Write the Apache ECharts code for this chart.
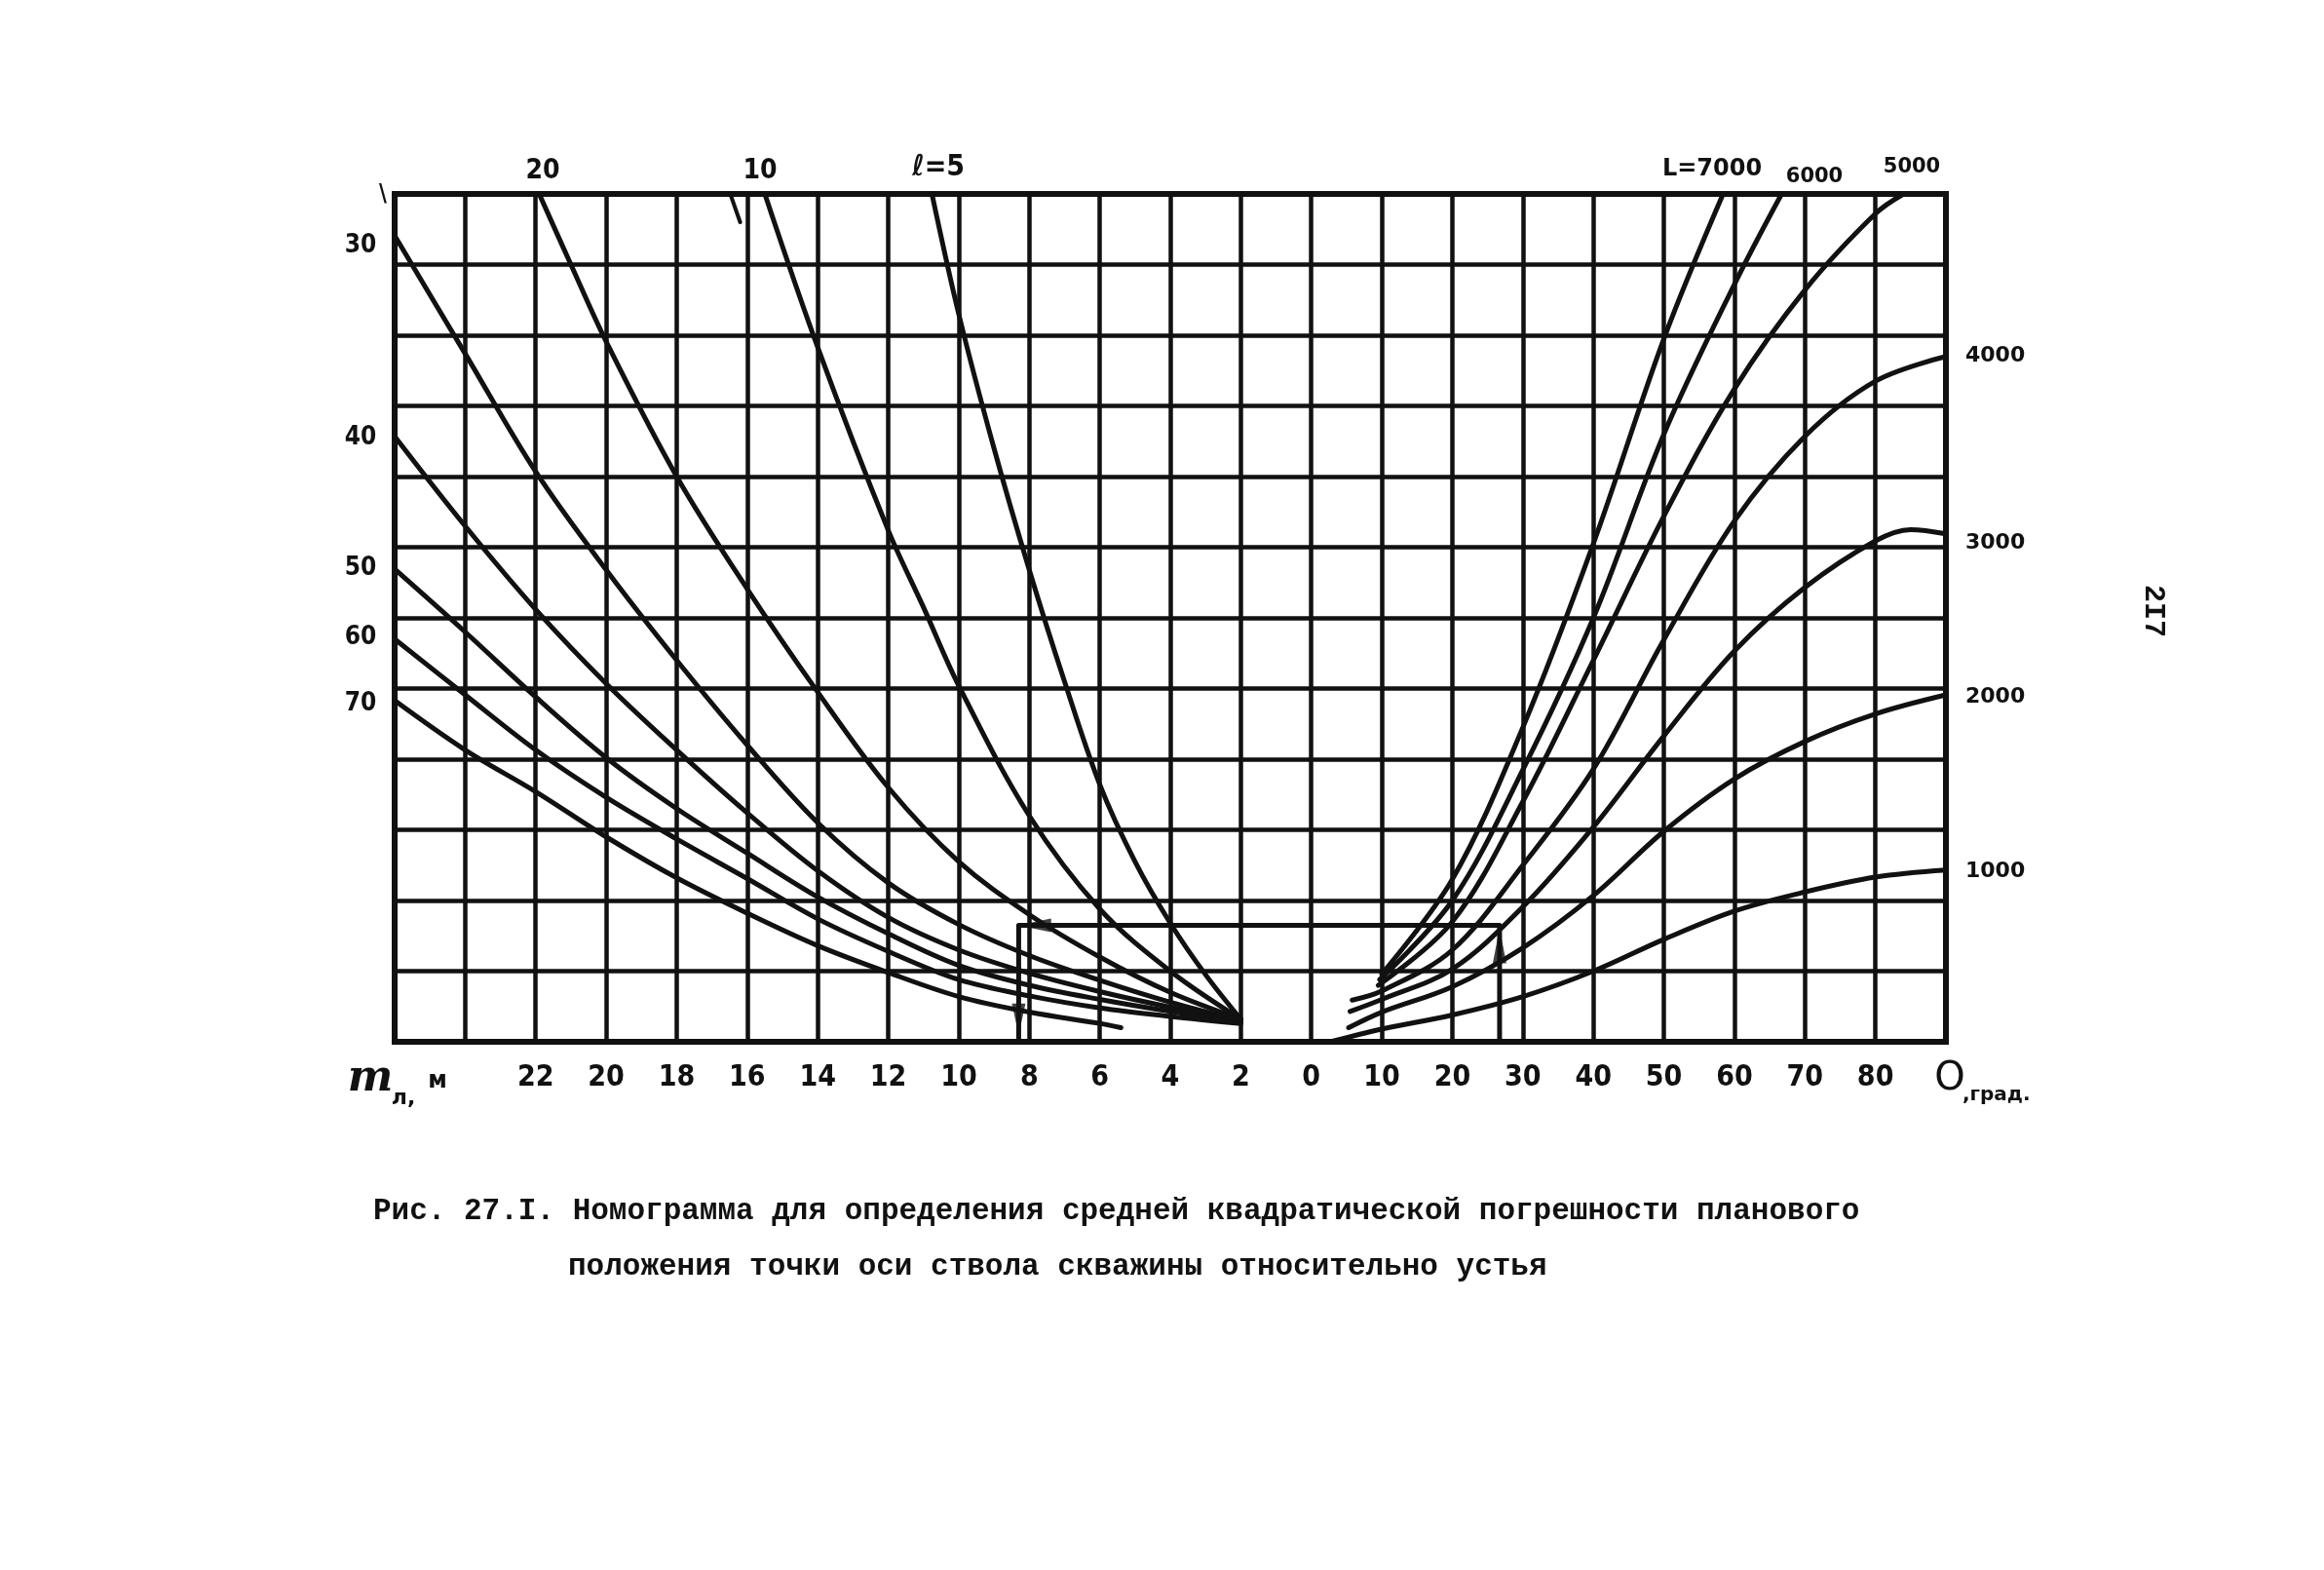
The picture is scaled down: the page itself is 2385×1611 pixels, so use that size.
<!DOCTYPE html>
<html><head><meta charset="utf-8">
<script src="https://cdn.jsdelivr.net/npm/echarts@6/dist/echarts.min.js"></script>
<style>html,body{margin:0;padding:0;background:#fff}#c{width:2385px;height:1611px}</style>
</head><body><div id="c"></div>
<script>
// ---- tick labels ----
const mTickLabels = [22, 20, 18, 16, 14, 12, 10, 8, 6, 4, 2];
const thetaTickLabels = [0, 10, 20, 30, 40, 50, 60, 70, 80];

// ---- left family: m (metres) vs. level, curves for l ----
const curveL5  = [[10.76,12],[10,10.3],[9,8.4],[8,6.68],[7,5.1],[6,3.64],[5,2.55],[4,1.68],[3,0.95],[2,0.32]];
const curveL10 = [[15.5,12],[14,9.83],[12,7.24],[11,6.15],[10,5.04],[8,3.2],[6,1.88],[4,1.0],[2,0.32]];
const curveL20 = [[21.9,12],[21,11],[20,9.91],[18,8.0],[16,6.41],[14,4.95],[12,3.6],[10,2.55],[8,1.8],[6,1.2],[4,0.7],[2,0.32]];
const curveL30 = [[26,11.41],[24,9.74],[22,8.07],[20,6.68],[18,5.4],[16,4.2],[14,3.1],[12,2.25],[10,1.66],[8,1.22],[6,0.87],[4,0.56],[2,0.3]];
const curveL40 = [[26,8.57],[24,7.3],[22,6.12],[20,5.07],[18,4.13],[16,3.24],[14,2.42],[12,1.76],[10,1.3],[8,0.97],[6,0.71],[4,0.49],[2,0.3]];
const curveL50 = [[26,6.69],[24,5.8],[22,4.88],[20,4.02],[18,3.3],[16,2.67],[14,2.05],[12,1.53],[10,1.08],[8,0.8],[6,0.6],[4,0.43],[2,0.28]];
const curveL60 = [[26,5.7],[24,4.91],[22,4.13],[20,3.46],[18,2.87],[16,2.31],[14,1.74],[12,1.28],[10,0.88],[8,0.65],[6,0.48],[4,0.36],[2,0.26]];
const curveL70 = [[26,4.83],[24,4.13],[22,3.54],[20,2.9],[18,2.32],[16,1.82],[14,1.36],[12,0.98],[10,0.64],[8,0.42],[6,0.26],[5.4,0.2]];
const strayStroke = [[16.48,12],[16.2,11.6]];

// ---- right family: theta (degrees) vs. level, curves for L ----
const curveL1000 = [[2.7,0],[10,0.18],[20,0.38],[30,0.64],[40,1.0],[50,1.45],[60,1.85],[70,2.12],[80,2.33],[90,2.43]];
const curveL2000 = [[5.3,0.2],[10,0.42],[20,0.78],[30,1.33],[40,2.07],[50,2.98],[60,3.72],[70,4.25],[80,4.64],[90,4.91]];
const curveL3000 = [[5.5,0.43],[10,0.6],[20,1.03],[30,1.91],[40,3.04],[50,4.33],[60,5.53],[70,6.43],[80,7.09],[85,7.25],[90,7.19]];
const curveL4000 = [[5.8,0.59],[10,0.72],[20,1.3],[30,2.5],[40,3.86],[50,5.69],[60,7.37],[70,8.57],[80,9.35],[90,9.7]];
const curveL5000 = [[9.5,0.8],[20,1.7],[30,3.4],[40,5.4],[50,7.44],[60,9.24],[70,10.64],[80,11.72],[84,12]];
const curveL6000 = [[9.7,0.88],[20,2.0],[30,3.85],[40,6.0],[50,8.6],[60,10.72],[66.7,12]];
const curveL7000 = [[10,0.96],[20,2.3],[30,4.45],[40,7.05],[50,9.95],[58.4,12]];

// ---- worked example (key) ----
const exampleTheta = 26.7, exampleM = 8.3, exampleLevel = 1.65;
const keyPathTheta = [[exampleTheta,0],[exampleTheta,exampleLevel],[0,exampleLevel]];
const keyPathM = [[0,exampleLevel],[exampleM,exampleLevel],[exampleM,0]];
const arrowsTheta = [[exampleTheta,1.36]];
const arrowsMLeft = [[7.85,exampleLevel]];
const arrowsMDown = [[exampleM,0.32]];

const chart = echarts.init(document.getElementById('c'), null, {renderer:'canvas'});
const BLACK = '#111';
const narrow = "'Liberation Sans Narrow','DejaVu Sans Condensed','Liberation Sans',sans-serif";

function curve(data, axis, w) {
  return {type:'line', data, xAxisIndex:axis, yAxisIndex:0, smooth:0.35, symbol:'none',
    lineStyle:{color:BLACK, width:w || 5, cap:'round', join:'round'}, silent:true, z:4};
}
function arrow(data, axis, rot, size) {
  return {type:'scatter', data, xAxisIndex:axis, yAxisIndex:0, symbol:'triangle',
    symbolSize:size, symbolRotate:rot, itemStyle:{color:BLACK}, silent:true, z:6};
}
function txt(x, y, text, font, extra) {
  return Object.assign({type:'text', x, y, silent:true, z:10,
    style:Object.assign({text, fill:BLACK, align:'center', verticalAlign:'middle'}, font)}, extra || {});
}

const option = {
  animation:false,
  backgroundColor:'#fff',
  grid:{left:405, top:199, width:1592, height:870, show:true, borderColor:BLACK, borderWidth:6, backgroundColor:'transparent'},
  xAxis:[
    {type:'value', min:-18, max:26, interval:2, inverse:true, position:'bottom',
     axisLine:{show:false}, axisTick:{show:false},
     splitLine:{show:true, lineStyle:{color:BLACK, width:4.5}},
     axisLabel:{margin:22, color:BLACK, fontSize:30, fontWeight:'bold', fontFamily:narrow,
       formatter:v => mTickLabels.indexOf(v) >= 0 ? String(v) : ''}},
    {type:'value', min:-130, max:90, interval:10, position:'bottom',
     axisLine:{show:false}, axisTick:{show:false}, splitLine:{show:false},
     axisLabel:{margin:22, color:BLACK, fontSize:30, fontWeight:'bold', fontFamily:narrow,
       formatter:v => thetaTickLabels.indexOf(v) >= 0 ? String(v) : ''}}
  ],
  yAxis:[{type:'value', min:0, max:12, interval:1, axisLine:{show:false}, axisTick:{show:false},
    axisLabel:{show:false}, splitLine:{show:true, lineStyle:{color:BLACK, width:4.5}}}],
  series:[
    curve(curveL5,0), curve(curveL10,0), curve(curveL20,0), curve(curveL30,0),
    curve(curveL40,0), curve(curveL50,0), curve(curveL60,0), curve(curveL70,0),
    curve(strayStroke,0,4),
    curve(curveL1000,1), curve(curveL2000,1), curve(curveL3000,1), curve(curveL4000,1),
    curve(curveL5000,1), curve(curveL6000,1), curve(curveL7000,1),
    Object.assign(curve(keyPathTheta,1,5), {smooth:false}),
    Object.assign(curve(keyPathM,0,5), {smooth:false}),
    arrow(arrowsTheta,1,0,[14,36]),
    arrow(arrowsMLeft,0,90,[14,34]),
    arrow(arrowsMDown,0,180,[14,32])
  ],
  graphic:[
    // top labels (l family and L family)
    txt(557,176,'20',{fontSize:28, fontWeight:'bold', fontFamily:narrow}),
    txt(780,176,'10',{fontSize:28, fontWeight:'bold', fontFamily:narrow}),
    txt(963,172,'ℓ=5',{fontSize:30, fontWeight:'bold', fontFamily:narrow}),
    txt(1757,174,'L=7000',{fontSize:24, fontWeight:'bold', fontFamily:"'DejaVu Sans',sans-serif"}),
    txt(1862,182,'6000',{fontSize:21, fontWeight:'bold', fontFamily:"'DejaVu Sans',sans-serif"}),
    txt(1962,172,'5000',{fontSize:21, fontWeight:'bold', fontFamily:"'DejaVu Sans',sans-serif"}),
    // left labels
    txt(393,200,'\\',{fontSize:24, fontWeight:'bold', fontFamily:narrow}),
    txt(370,252,'30',{fontSize:26, fontWeight:'bold', fontFamily:narrow}),
    txt(370,449,'40',{fontSize:26, fontWeight:'bold', fontFamily:narrow}),
    txt(370,583,'50',{fontSize:26, fontWeight:'bold', fontFamily:narrow}),
    txt(370,654,'60',{fontSize:26, fontWeight:'bold', fontFamily:narrow}),
    txt(370,722,'70',{fontSize:26, fontWeight:'bold', fontFamily:narrow}),
    // right labels
    txt(2017,365,'4000',{fontSize:22, fontWeight:'bold', fontFamily:"'DejaVu Sans',sans-serif", align:'left'}),
    txt(2017,557,'3000',{fontSize:22, fontWeight:'bold', fontFamily:"'DejaVu Sans',sans-serif", align:'left'}),
    txt(2017,715,'2000',{fontSize:22, fontWeight:'bold', fontFamily:"'DejaVu Sans',sans-serif", align:'left'}),
    txt(2017,894,'1000',{fontSize:22, fontWeight:'bold', fontFamily:"'DejaVu Sans',sans-serif", align:'left'}),
    // axis names
    txt(380,1108,'m',{fontSize:44, fontStyle:'italic', fontWeight:'bold', fontFamily:"'DejaVu Serif',serif"}),
    txt(414,1127,'л,',{fontSize:22, fontWeight:'bold', fontFamily:"'DejaVu Sans',sans-serif"}),
    txt(449,1110,'м',{fontSize:24, fontWeight:'bold', fontFamily:"'DejaVu Sans',sans-serif"}),
    txt(2001,1108,'O',{fontSize:40, fontFamily:"'DejaVu Sans',sans-serif"}),
    txt(2014,1124,',град.',{fontSize:20, fontWeight:'bold', fontFamily:"'DejaVu Sans',sans-serif", align:'left'}),
    // caption
    txt(383,1243,'Рис. 27.I. Номограмма для определения средней квадратической погрешности планового',
      {fontSize:31, fontWeight:'bold', fontFamily:"'Liberation Mono','DejaVu Sans Mono',monospace", align:'left'}),
    txt(583,1300,'положения точки оси ствола скважины относительно устья',
      {fontSize:31, fontWeight:'bold', fontFamily:"'Liberation Mono','DejaVu Sans Mono',monospace", align:'left'}),
    // page number
    txt(2210,627,'2I7',{fontSize:30, fontWeight:'bold', fontFamily:"'Liberation Mono','DejaVu Sans Mono',monospace"},
      {rotation:-Math.PI/2})
  ]
};
chart.setOption(option);
</script></body></html>
